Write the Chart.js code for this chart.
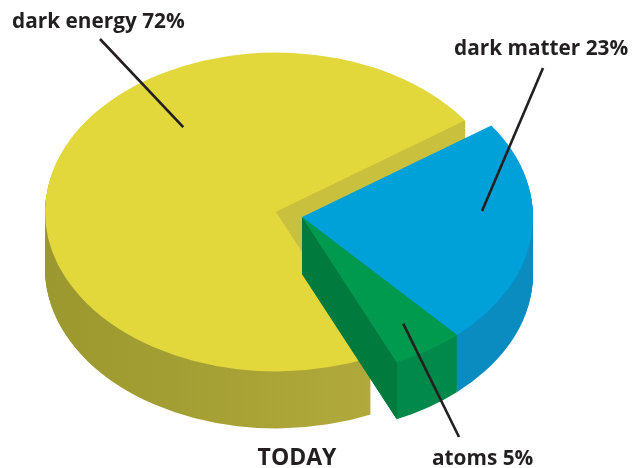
<!DOCTYPE html>
<html><head><meta charset="utf-8">
<style>html,body{margin:0;padding:0;background:#fff;}#wrap{width:640px;height:468px;position:relative;}</style>
<script src="https://cdn.jsdelivr.net/npm/chart.js@4.4.1/dist/chart.umd.min.js"></script>
</head><body><div id="wrap"><canvas id="c" width="640" height="468"></canvas></div>
<script>
// ---- data ----
const categories = ['dark matter', 'atoms', 'dark energy'];
const shares = [23, 5, 72];
const labelTexts = ['dark matter 23%', 'atoms 5%', 'dark energy 72%'];
const chartTitle = 'TODAY';

// ---- styles ----
const topColors = ['#00a1d9', '#009a4e', '#e2d73b'];
const sideColors = [['#0a8cc0', '#0a8cc0'], ['#00894a', '#00894a'], ['#9b982f', '#b2aa3b']];
const faceColors = ['#0a8cc0', '#007a3d', '#c9c03e'];

const pie3d = {
  id: 'pie3d',
  offsetFor(chart, opts, i) {
    const arcs = chart.getDatasetMeta(0).data;
    const g = opts.groups.find(gr => gr.idx.includes(i));
    if (!g.explode) return {ox: 0, oy: 0};
    const s = Math.min(...g.idx.map(j => arcs[j].startAngle));
    const e = Math.max(...g.idx.map(j => arcs[j].endAngle));
    const m = (s + e) / 2;
    return {ox: Math.cos(m) * g.explode, oy: Math.sin(m) * g.explode};
  },
  toScreen(a, k, o, px, py) {
    return [px + o.ox, a.y + k * (py - a.y + o.oy)];
  },
  tf(ctx, a, k, o, d) {
    ctx.translate(a.x + o.ox, a.y + k * o.oy + d);
    ctx.scale(1, k);
    ctx.translate(-a.x, -a.y);
  },
  beforeDatasetsDraw(chart, args, opts) {
    const ctx = chart.ctx;
    const arcs = chart.getDatasetMeta(0).data;
    const k = opts.tilt, depth = opts.depth;
    opts.groups.forEach(g => {
      const o = this.offsetFor(chart, opts, g.idx[0]);
      // outer walls (extruded)
      for (let d = depth; d >= 1; d--) {
        g.idx.forEach(i => {
          const a = arcs[i];
          ctx.save();
          this.tf(ctx, a, k, o, d);
          const gr = ctx.createLinearGradient(a.x - a.outerRadius, 0, a.x + a.outerRadius * 0.5, 0);
          gr.addColorStop(0, sideColors[i][0]);
          gr.addColorStop(1, sideColors[i][1]);
          ctx.fillStyle = gr;
          ctx.beginPath();
          ctx.moveTo(a.x, a.y);
          ctx.arc(a.x, a.y, a.outerRadius, a.startAngle, a.endAngle);
          ctx.closePath();
          ctx.fill();
          ctx.restore();
        });
      }
      // radial cut faces
      const s = Math.min(...g.idx.map(j => arcs[j].startAngle));
      const e = Math.max(...g.idx.map(j => arcs[j].endAngle));
      g.idx.forEach(i => {
        const a = arcs[i];
        [[a.startAngle, a.startAngle - Math.PI / 2], [a.endAngle, a.endAngle + Math.PI / 2]].forEach(([ang, nrm]) => {
          const isOuter = Math.abs(ang - s) < 1e-6 || Math.abs(ang - e) < 1e-6;
          if (!isOuter || Math.sin(nrm) <= 0.02) return;
          const c = this.toScreen(a, k, o, a.x, a.y);
          const p = this.toScreen(a, k, o, a.x + Math.cos(ang) * a.outerRadius, a.y + Math.sin(ang) * a.outerRadius);
          ctx.save();
          ctx.fillStyle = faceColors[i];
          ctx.beginPath();
          ctx.moveTo(c[0], c[1]);
          ctx.lineTo(p[0], p[1]);
          ctx.lineTo(p[0], p[1] + depth);
          ctx.lineTo(c[0], c[1] + depth);
          ctx.closePath();
          ctx.fill();
          ctx.restore();
        });
      });
      // top faces
      g.idx.forEach(i => {
        const a = arcs[i];
        ctx.save();
        this.tf(ctx, a, k, o, 0);
        a.draw(ctx);
        ctx.restore();
      });
    });
    return false;
  },
  afterDraw(chart, args, opts) {
    const ctx = chart.ctx;
    const arcs = chart.getDatasetMeta(0).data;
    const k = opts.tilt;
    ctx.save();
    ctx.fillStyle = '#231f20';
    ctx.strokeStyle = '#231f20';
    ctx.lineWidth = 2.6;
    ctx.textBaseline = 'alphabetic';
    opts.labels.forEach(L => {
      const a = arcs[L.slice];
      const o = this.offsetFor(chart, opts, L.slice);
      const ang = a.startAngle + L.t * (a.endAngle - a.startAngle);
      const p = this.toScreen(a, k, o, a.x + Math.cos(ang) * a.outerRadius * L.r, a.y + Math.sin(ang) * a.outerRadius * L.r);
      ctx.beginPath();
      ctx.moveTo(L.lx, L.ly);
      ctx.lineTo(p[0], p[1]);
      ctx.stroke();
      ctx.font = opts.font;
      ctx.textAlign = 'left';
      ctx.fillText(labelTexts[L.slice], L.tx, L.ty);
    });
    ctx.font = opts.titleFont;
    ctx.textAlign = 'center';
    ctx.fillText(chartTitle, opts.titlePos[0], opts.titlePos[1]);
    ctx.restore();
  }
};

new Chart(document.getElementById('c'), {
  type: 'pie',
  data: {
    labels: categories,
    datasets: [{data: shares, backgroundColor: topColors, borderWidth: 0}]
  },
  options: {
    responsive: false,
    animation: false,
    devicePixelRatio: 1,
    rotation: 55,
    radius: 231,
    layout: {padding: {left: 0, right: 88, top: 0, bottom: 44}},
    plugins: {
      legend: {display: false},
      tooltip: {enabled: false},
      pie3d: {
        tilt: 0.69,
        depth: 57,
        groups: [{idx: [2], explode: 0}, {idx: [0, 1], explode: 27}],
        font: 'bold 20.8px "Open Sans"',
        titleFont: 'bold 23px "Open Sans"',
        titlePos: [297, 465],
        labels: [
          {slice: 2, t: 0.645, r: 0.667, tx: 12, ty: 28, lx: 100, ly: 39},
          {slice: 0, t: 0.39, r: 0.78, tx: 454, ty: 55, lx: 543, ly: 68},
          {slice: 1, t: 0.5, r: 0.80, tx: 432, ty: 465, lx: 459, ly: 437}
        ]
      }
    }
  },
  plugins: [pie3d]
});
</script>
</body></html>
